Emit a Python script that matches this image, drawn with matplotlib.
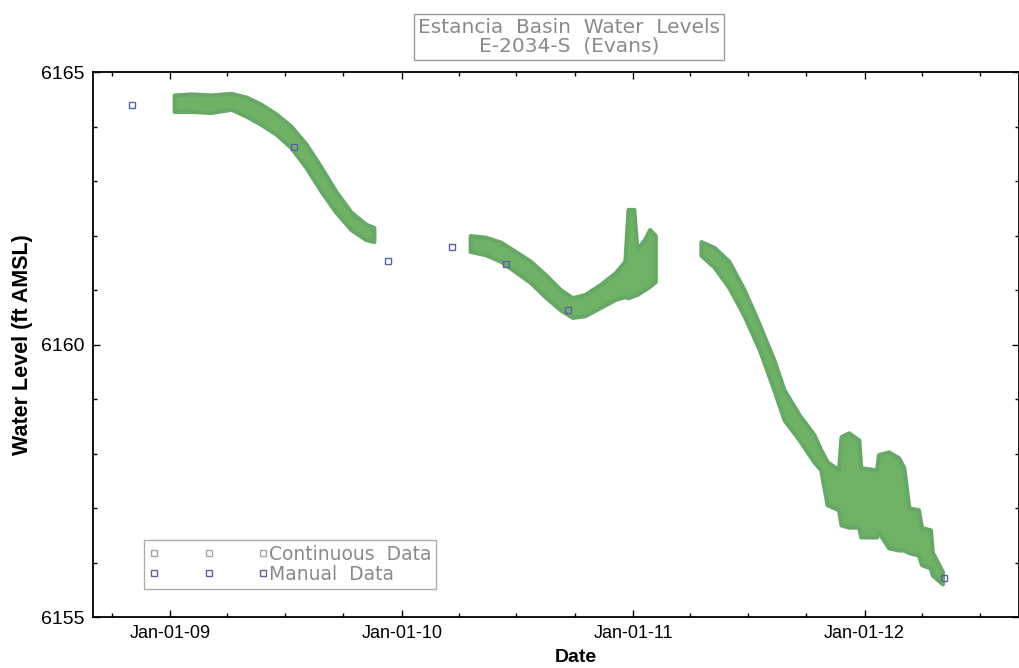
import matplotlib
matplotlib.use("Agg")
import matplotlib.pyplot as plt
import matplotlib.dates as mdates
from matplotlib.lines import Line2D
import pandas as pd

# --- Data (daily high / low envelope of the logger) ---
seg1_dates = ["2009-01-07", "2009-02-03", "2009-03-06", "2009-04-07", "2009-05-01",
              "2009-05-24", "2009-06-17", "2009-07-10", "2009-08-03", "2009-08-27",
              "2009-09-19", "2009-10-13", "2009-11-05", "2009-11-18"]
seg1_hi = [6164.58, 6164.60, 6164.58, 6164.61, 6164.54, 6164.41, 6164.23,
           6164.01, 6163.68, 6163.25, 6162.81, 6162.43, 6162.21, 6162.15]
seg1_lo = [6164.28, 6164.28, 6164.26, 6164.32, 6164.19, 6164.04, 6163.86,
           6163.62, 6163.25, 6162.81, 6162.43, 6162.11, 6161.93, 6161.89]

seg2_dates = ["2010-04-19", "2010-05-13", "2010-06-06", "2010-06-29", "2010-07-23",
              "2010-08-15", "2010-09-08", "2010-09-27", "2010-10-17", "2010-11-10",
              "2010-12-04", "2010-12-19", "2010-12-24", "2011-01-02", "2011-01-07",
              "2011-01-19", "2011-01-27", "2011-02-05"]
seg2_hi = [6162.00, 6161.97, 6161.88, 6161.71, 6161.53, 6161.29, 6161.01, 6160.86,
           6160.92, 6161.10, 6161.32, 6161.53, 6162.48, 6162.48, 6161.75, 6161.93,
           6162.11, 6162.00]
seg2_lo = [6161.71, 6161.65, 6161.53, 6161.34, 6161.14, 6160.88, 6160.64, 6160.50,
           6160.53, 6160.68, 6160.83, 6160.88, 6160.86, 6160.90, 6160.92, 6161.01,
           6161.07, 6161.16]

seg3_dates = ["2011-04-18", "2011-05-09", "2011-06-01", "2011-06-25", "2011-07-19",
              "2011-08-11", "2011-08-27", "2011-09-20", "2011-10-13", "2011-10-24",
              "2011-11-03", "2011-11-21", "2011-11-25", "2011-12-07", "2011-12-23",
              "2011-12-26", "2012-01-20", "2012-01-23", "2012-02-08", "2012-02-24",
              "2012-03-03", "2012-03-11", "2012-03-26", "2012-03-31", "2012-04-14",
              "2012-04-17", "2012-05-03"]
seg3_hi = [6161.89, 6161.78, 6161.53, 6161.01, 6160.37, 6159.72, 6159.17, 6158.71,
           6158.35, 6158.07, 6157.85, 6157.70, 6158.31, 6158.38, 6158.25, 6157.74,
           6157.70, 6157.98, 6158.03, 6157.92, 6157.74, 6157.00, 6156.97, 6156.64,
           6156.60, 6156.19, 6155.83]
seg3_lo = [6161.64, 6161.42, 6161.05, 6160.53, 6159.91, 6159.17, 6158.62, 6158.25,
           6157.85, 6157.70, 6157.06, 6156.97, 6156.69, 6156.65, 6156.65, 6156.47,
           6156.47, 6156.56, 6156.27, 6156.23, 6156.23, 6156.18, 6156.14, 6155.96,
           6155.90, 6155.77, 6155.61]

manual_dates = ["2008-11-02", "2009-07-15", "2009-12-11", "2010-03-21", "2010-06-14",
                "2010-09-21", "2012-05-06"]
manual_vals = [6164.39, 6163.62, 6161.54, 6161.80, 6161.47, 6160.63, 6155.72]

green = "#70b265"
blue = "#5b63a3"
gray_txt = "#8a8a8a"

fig = plt.figure(figsize=(10.2, 6.68), dpi=100)
ax = fig.add_axes([0.0912, 0.0763, 0.908, 0.8157])

for d, hi, lo in [(seg1_dates, seg1_hi, seg1_lo),
                  (seg2_dates, seg2_hi, seg2_lo),
                  (seg3_dates, seg3_hi, seg3_lo)]:
    ax.fill_between(pd.to_datetime(d), lo, hi, color=green, edgecolor="#68a867",
                    linewidth=3, zorder=2)

ax.plot(pd.to_datetime(manual_dates), manual_vals, ls="none", marker="s", ms=5,
        mfc="none", mec=blue, mew=1, zorder=3)

ax.set_xlim(pd.Timestamp("2008-09-01"), pd.Timestamp("2012-09-01"))
ax.set_ylim(6155, 6165)

ax.xaxis.set_major_locator(mdates.YearLocator())
ax.xaxis.set_minor_locator(mdates.MonthLocator(bymonth=[1, 4, 7, 10]))
ax.xaxis.set_major_formatter(mdates.DateFormatter("%b-%d-%y"))
ax.set_yticks([6155, 6160, 6165])
ax.set_yticks(range(6155, 6166), minor=True)

ax.tick_params(axis="both", which="both", direction="in", top=True, right=True,
               width=1, colors="black")
ax.tick_params(axis="both", which="major", length=5)
ax.tick_params(axis="both", which="minor", length=3)
ax.tick_params(axis="x", labelsize=13, pad=6)
ax.tick_params(axis="y", labelsize=14, pad=6)
for lab in ax.get_xticklabels() + ax.get_yticklabels():
    lab.set_family("Liberation Sans")
for s in ax.spines.values():
    s.set_linewidth(1.3)

ax.set_xlabel("Date", fontsize=14, fontweight="bold", family="Liberation Sans",
              labelpad=1)
ax.xaxis.set_label_coords((576 - 93) / 926, -0.058)
ax.set_ylabel("Water Level (ft AMSL)", fontsize=15.5, fontweight="bold",
              family="Liberation Sans", labelpad=6)

handles = [Line2D([], [], ls="none", marker="s", ms=4, mfc="none", mec="#a2aaa0"),
           Line2D([], [], ls="none", marker="s", ms=4, mfc="none", mec=blue)]
leg = ax.legend(handles, ["Continuous  Data", "Manual  Data"], loc="lower left",
                bbox_to_anchor=(0.045, 0.035), numpoints=3, handlelength=6.4,
                handletextpad=0.0, borderpad=0.25, labelspacing=0.05,
                fancybox=False, edgecolor="#9a9a9a",
                prop={"family": "DejaVu Sans", "size": 13.5})
leg.get_frame().set_linewidth(1)
for t in leg.get_texts():
    t.set_color(gray_txt)

fig.text(0.558, 0.945, "Estancia  Basin  Water  Levels\nE-2034-S  (Evans)",
         ha="center", va="center", fontsize=14.5, family="DejaVu Sans",
         color=gray_txt, linespacing=1.0,
         bbox=dict(boxstyle="square,pad=0.2", fc="white", ec="#9a9a9a", lw=1))

fig.savefig("out.png", dpi=100)
